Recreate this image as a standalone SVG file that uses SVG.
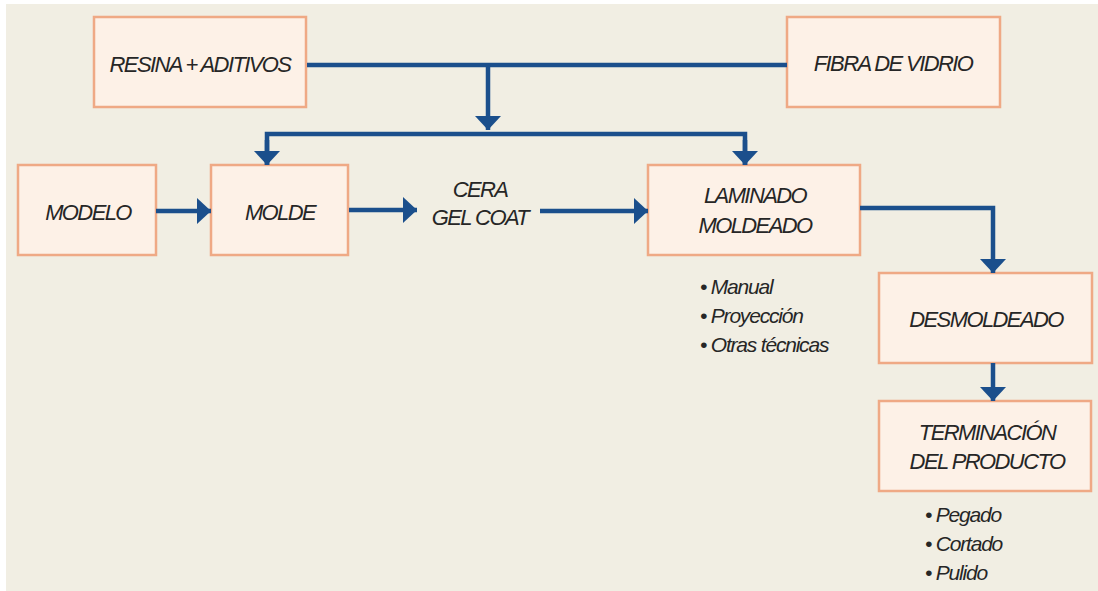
<svg xmlns="http://www.w3.org/2000/svg" width="1098" height="591" viewBox="0 0 1098 591">
<style>
.box{fill:#fdf1e7;stroke:#efa985;stroke-width:2.5}
.t{font-family:"Liberation Sans",Arial,sans-serif;font-style:italic;font-size:22px;letter-spacing:-1.6px;fill:#262626;text-anchor:middle}
.b{font-family:"Liberation Sans",Arial,sans-serif;font-style:italic;font-size:21px;letter-spacing:-1.2px;fill:#262626}
.c{fill:none;stroke:#1b4f8c;stroke-width:4.5}
</style>
<defs>
<marker id="ah" markerUnits="userSpaceOnUse" markerWidth="15" markerHeight="26" refX="14" refY="13" orient="auto" viewBox="0 0 15 26">
<path d="M0,0 L14,13 L0,26 Z" fill="#1b4f8c"/>
</marker>
</defs>
<rect x="0" y="0" width="1098" height="591" fill="#ffffff"/>
<rect x="6" y="4" width="1092" height="587" fill="#f1eee3"/>
<g id="resina"><rect class="box" x="94" y="17" width="212" height="90"/><text class="t" x="200" y="72">RESINA + ADITIVOS</text></g>
<g id="fibra"><rect class="box" x="787" y="17" width="213" height="90"/><text class="t" x="893" y="71">FIBRA DE VIDRIO</text></g>
<g id="modelo"><rect class="box" x="18" y="165" width="138" height="90"/><text class="t" x="88" y="220">MODELO</text></g>
<g id="molde"><rect class="box" x="211" y="165" width="137" height="90"/><text class="t" x="280" y="220">MOLDE</text></g>
<g id="cera"><text class="t" x="480" y="197">CERA</text><text class="t" x="480" y="225">GEL COAT</text></g>
<g id="laminado"><rect class="box" x="648" y="165" width="212" height="90"/><text class="t" x="755" y="203">LAMINADO</text><text class="t" x="755" y="233">MOLDEADO</text>
<text class="b" x="700" y="294">• Manual</text><text class="b" x="700" y="323">• Proyección</text><text class="b" x="700" y="352">• Otras técnicas</text></g>
<g id="desmoldeado"><rect class="box" x="879" y="273" width="213" height="90"/><text class="t" x="986" y="327">DESMOLDEADO</text></g>
<g id="terminacion"><rect class="box" x="879" y="401" width="212" height="90"/><text class="t" x="987" y="440">TERMINACIÓN</text><text class="t" x="987" y="469">DEL PRODUCTO</text>
<text class="b" x="925" y="522">• Pegado</text><text class="b" x="925" y="551">• Cortado</text><text class="b" x="925" y="580">• Pulido</text></g>
<g id="connectors">
<path class="c" d="M307,65 H787"/>
<path class="c" d="M488,65 V130" marker-end="url(#ah)"/>
<path class="c" d="M267,165 V134 H745 V165" />
<path class="c" d="M267,140 V165" marker-end="url(#ah)"/>
<path class="c" d="M745,140 V165" marker-end="url(#ah)"/>
<path class="c" d="M156,211 H211" marker-end="url(#ah)"/>
<path class="c" d="M349,210 H417" marker-end="url(#ah)"/>
<path class="c" d="M540,211 H648" marker-end="url(#ah)"/>
<path class="c" d="M860,208 H993 V273" marker-end="url(#ah)"/>
<path class="c" d="M993,363 V401" marker-end="url(#ah)"/>
</g>
</svg>
